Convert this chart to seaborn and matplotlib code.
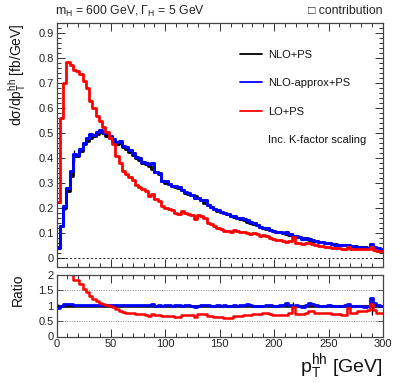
import numpy as np
import matplotlib
matplotlib.use("Agg")
import matplotlib.pyplot as plt
from matplotlib.lines import Line2D
import seaborn as sns

# ---- data (3 GeV bins from 0 to 300 GeV) ----
bin_edges = np.arange(0, 301, 3)

nlo_ps = [0.043, 0.130, 0.200, 0.270, 0.330, 0.410, 0.410, 0.430, 0.455, 0.470,
          0.480, 0.487, 0.495, 0.505, 0.500, 0.490, 0.480, 0.468, 0.458, 0.462,
          0.445, 0.435, 0.425, 0.412, 0.400, 0.392, 0.380, 0.375, 0.370, 0.355,
          0.345, 0.335, 0.310, 0.300, 0.295, 0.290, 0.285, 0.282, 0.272, 0.262,
          0.257, 0.252, 0.250, 0.240, 0.232, 0.222, 0.212, 0.205, 0.198, 0.190,
          0.186, 0.180, 0.176, 0.170, 0.166, 0.160, 0.157, 0.152, 0.146, 0.142,
          0.138, 0.132, 0.124, 0.120, 0.117, 0.113, 0.110, 0.106, 0.103, 0.099,
          0.095, 0.093, 0.088, 0.086, 0.083, 0.080, 0.078, 0.072, 0.069, 0.067,
          0.065, 0.063, 0.061, 0.059, 0.057, 0.055, 0.054, 0.052, 0.051, 0.049,
          0.048, 0.047, 0.045, 0.044, 0.043, 0.042, 0.044, 0.040, 0.038, 0.036]

nlo_ps_relerr = [0.05, 0.02, 0.04, 0.01, 0.01, 0.05, 0.01, 0.01, 0.01, 0.01,
                 0.01, 0.01, 0.01, 0.01, 0.01, 0.01, 0.01, 0.01, 0.01, 0.01,
                 0.01, 0.01, 0.01, 0.01, 0.01, 0.01, 0.01, 0.01, 0.01, 0.01,
                 0.01, 0.01, 0.01, 0.01, 0.01, 0.01, 0.01, 0.01, 0.01, 0.01,
                 0.01, 0.01, 0.01, 0.01, 0.01, 0.02, 0.01, 0.01, 0.01, 0.01,
                 0.01, 0.01, 0.01, 0.01, 0.01, 0.01, 0.01, 0.02, 0.02, 0.02,
                 0.02, 0.02, 0.02, 0.02, 0.02, 0.02, 0.02, 0.02, 0.02, 0.02,
                 0.02, 0.02, 0.12, 0.02, 0.02, 0.02, 0.02, 0.02, 0.02, 0.02,
                 0.02, 0.02, 0.02, 0.02, 0.02, 0.02, 0.02, 0.02, 0.03, 0.03,
                 0.04, 0.04, 0.04, 0.04, 0.04, 0.04, 0.30, 0.04, 0.04, 0.04]

nlo_approx_ps = [0.040, 0.130, 0.210, 0.281, 0.350, 0.418, 0.414, 0.436, 0.462, 0.481,
                 0.496, 0.494, 0.505, 0.513, 0.505, 0.500, 0.487, 0.477, 0.463, 0.467,
                 0.449, 0.444, 0.431, 0.420, 0.404, 0.400, 0.384, 0.379, 0.377, 0.380,
                 0.345, 0.342, 0.310, 0.309, 0.298, 0.290, 0.288, 0.285, 0.272, 0.265,
                 0.260, 0.252, 0.240, 0.240, 0.234, 0.231, 0.214, 0.205, 0.198, 0.192,
                 0.186, 0.182, 0.176, 0.170, 0.168, 0.160, 0.160, 0.157, 0.153, 0.145,
                 0.139, 0.132, 0.125, 0.120, 0.119, 0.114, 0.110, 0.106, 0.105, 0.102,
                 0.103, 0.095, 0.088, 0.087, 0.083, 0.078, 0.080, 0.078, 0.072, 0.068,
                 0.065, 0.063, 0.061, 0.060, 0.057, 0.054, 0.054, 0.052, 0.052, 0.051,
                 0.048, 0.046, 0.044, 0.043, 0.041, 0.041, 0.055, 0.044, 0.039, 0.036]

lo_ps = [0.225, 0.560, 0.700, 0.785, 0.772, 0.752, 0.750, 0.735, 0.710, 0.680,
         0.630, 0.600, 0.570, 0.550, 0.525, 0.505, 0.480, 0.455, 0.410, 0.380,
         0.350, 0.335, 0.325, 0.313, 0.292, 0.283, 0.275, 0.268, 0.250, 0.255,
         0.238, 0.230, 0.208, 0.200, 0.198, 0.194, 0.180, 0.178, 0.188, 0.181,
         0.177, 0.174, 0.158, 0.173, 0.167, 0.160, 0.142, 0.137, 0.127, 0.120,
         0.117, 0.110, 0.107, 0.104, 0.111, 0.107, 0.105, 0.105, 0.100, 0.098,
         0.099, 0.095, 0.089, 0.092, 0.090, 0.081, 0.076, 0.073, 0.071, 0.068,
         0.066, 0.070, 0.084, 0.062, 0.060, 0.058, 0.060, 0.060, 0.057, 0.051,
         0.049, 0.048, 0.046, 0.045, 0.041, 0.040, 0.039, 0.036, 0.035, 0.045,
         0.037, 0.036, 0.037, 0.037, 0.036, 0.036, 0.046, 0.034, 0.029, 0.027]

series_labels = ["NLO+PS", "NLO-approx+PS", "LO+PS"]
series_colors = ["#000000", "#0000ff", "#ff0000"]
extra_legend_text = "Inc. K-factor scaling"
title_left = r"m$_{\rm H}$ = 600 GeV, $\Gamma_{\rm H}$ = 5 GeV"
title_right = "\u25a1 contribution"

# ---- style ----
sns.set_style("ticks")
plt.rcParams["font.family"] = ["Liberation Sans", "DejaVu Sans"]
plt.rcParams["mathtext.fontset"] = "custom"
plt.rcParams["mathtext.rm"] = "Liberation Sans"
plt.rcParams["mathtext.it"] = "Liberation Sans:italic"
plt.rcParams["mathtext.sf"] = "Liberation Sans"
plt.rcParams["mathtext.default"] = "regular"

W, H = 399, 383
fig = plt.figure(figsize=(W / 100, H / 100), dpi=100)
fig.patch.set_facecolor("white")

def fx(px):
    return px / W

def fy(py):
    return 1 - py / H

ax_l, ax_r = 56.5, 383.0
ax = fig.add_axes([fx(ax_l), fy(267), (ax_r - ax_l) / W, (267 - 23) / H])
axr = fig.add_axes([fx(ax_l), fy(336.5), (ax_r - ax_l) / W, (336.5 - 275) / H])

edges = np.asarray(bin_edges, dtype=float)
centers = 0.5 * (edges[:-1] + edges[1:])
black = np.asarray(nlo_ps)
blue = np.asarray(nlo_approx_ps)
red = np.asarray(lo_ps)
relerr = np.asarray(nlo_ps_relerr)

def step(axis, vals, color, lw):
    yy = np.append(vals, vals[-1])
    sns.lineplot(x=edges, y=yy, drawstyle="steps-post", color=color,
                 linewidth=lw, ax=axis, errorbar=None, sort=False)

# main panel
ax.axhline(0, color="black", lw=0.6, ls=(0, (2.5, 2.5)))
step(ax, black, series_colors[0], 2.0)
ax.errorbar(centers, black, yerr=black * relerr, fmt="none", ecolor="black", elinewidth=1.0)
step(ax, blue, series_colors[1], 2.2)
step(ax, red, series_colors[2], 2.0)

ax.set_xlim(0, 300)
ax.set_ylim(-0.036, 0.94)
ax.set_xticks(np.arange(0, 301, 50))
ax.set_xticks(np.arange(0, 301, 10), minor=True)
ax.set_yticks(np.arange(0, 0.91, 0.1))
ax.set_yticks(np.arange(0, 0.94, 0.02), minor=True)
ax.set_yticklabels(["0", "0.1", "0.2", "0.3", "0.4", "0.5", "0.6", "0.7", "0.8", "0.9"])
ax.tick_params(axis="both", which="both", direction="in", top=True, right=True,
               labelbottom=False, labelsize=8, pad=2, colors="#333333", labelcolor="#222222")
ax.tick_params(axis="y", which="major", length=6, width=0.7)
ax.tick_params(axis="y", which="minor", length=3, width=0.7)
ax.tick_params(axis="x", which="major", length=6, width=0.7)
ax.tick_params(axis="x", which="minor", length=3, width=0.7)
ax.set_xlabel("")
ax.set_ylabel("")

# legend
handles = [Line2D([], [], color=c, lw=1.3) for c in series_colors]
handles.append(Line2D([], [], color="none", lw=0))
labels = series_labels + [extra_legend_text]
leg = ax.legend(handles, labels, loc="upper left",
                bbox_to_anchor=((240 - ax_l) / (ax_r - ax_l), 1 - (50 - 23) / 244),
                frameon=False, fontsize=8, handlelength=2.0, handletextpad=0.55,
                labelspacing=1.65, borderpad=0, borderaxespad=0)
for t in leg.get_texts():
    t.set_color("#111111")

# ratio panel
r_black = black / black
r_blue = blue / black
r_red = red / black
for yv in (0.5, 1.5):
    axr.axhline(yv, color="#888888", lw=0.7, ls=(0, (1, 1.5)))
step(axr, r_black, series_colors[0], 1.8)
axr.errorbar(centers, r_black, yerr=relerr, fmt="none", ecolor="black", elinewidth=1.0)
step(axr, r_blue, series_colors[1], 2.0)
step(axr, r_red, series_colors[2], 1.8)
axr.set_xlim(0, 300)
axr.set_ylim(0, 2.0)
axr.set_xticks(np.arange(0, 301, 50))
axr.set_xticks(np.arange(0, 301, 10), minor=True)
axr.set_xticklabels([str(v) for v in range(0, 301, 50)])
axr.set_yticks([0, 0.5, 1, 1.5, 2])
axr.set_yticklabels(["0", "0.5", "1", "1.5", "2"])
axr.tick_params(axis="both", which="both", direction="in", top=True, right=True,
                labelsize=8, pad=2, colors="#333333", labelcolor="#222222")
axr.tick_params(axis="x", which="major", length=6, width=0.7)
axr.tick_params(axis="x", which="minor", length=3, width=0.7)
axr.tick_params(axis="y", which="major", length=4, width=0.7)
axr.set_xlabel("")
axr.set_ylabel("")

for a in (ax, axr):
    for s in a.spines.values():
        s.set_linewidth(0.9)
        s.set_color("#444444")

# texts
fig.text(fx(55), fy(11.5), title_left, ha="left", va="center", fontsize=8.8, color="#222222")
fig.text(fx(383), fy(11), title_right, ha="right", va="center", fontsize=8.8, color="#222222",
         family=["Liberation Sans", "DejaVu Sans"])
fig.text(fx(17.5), fy(23), r"d$\sigma$/dp$_{\rm T}^{\rm hh}$ [fb/GeV]", rotation=90,
         ha="center", va="top", fontsize=10, color="#111111")
fig.text(fx(17.5), fy(274), "Ratio", rotation=90, ha="center", va="top", fontsize=10,
         color="#111111")
fig.text(fx(383), fy(367), r"p$_{\rm T}^{\rm hh}$ [GeV]", ha="right", va="center",
         fontsize=14, color="#111111")

fig.savefig("out.png", dpi=100, facecolor="white")
